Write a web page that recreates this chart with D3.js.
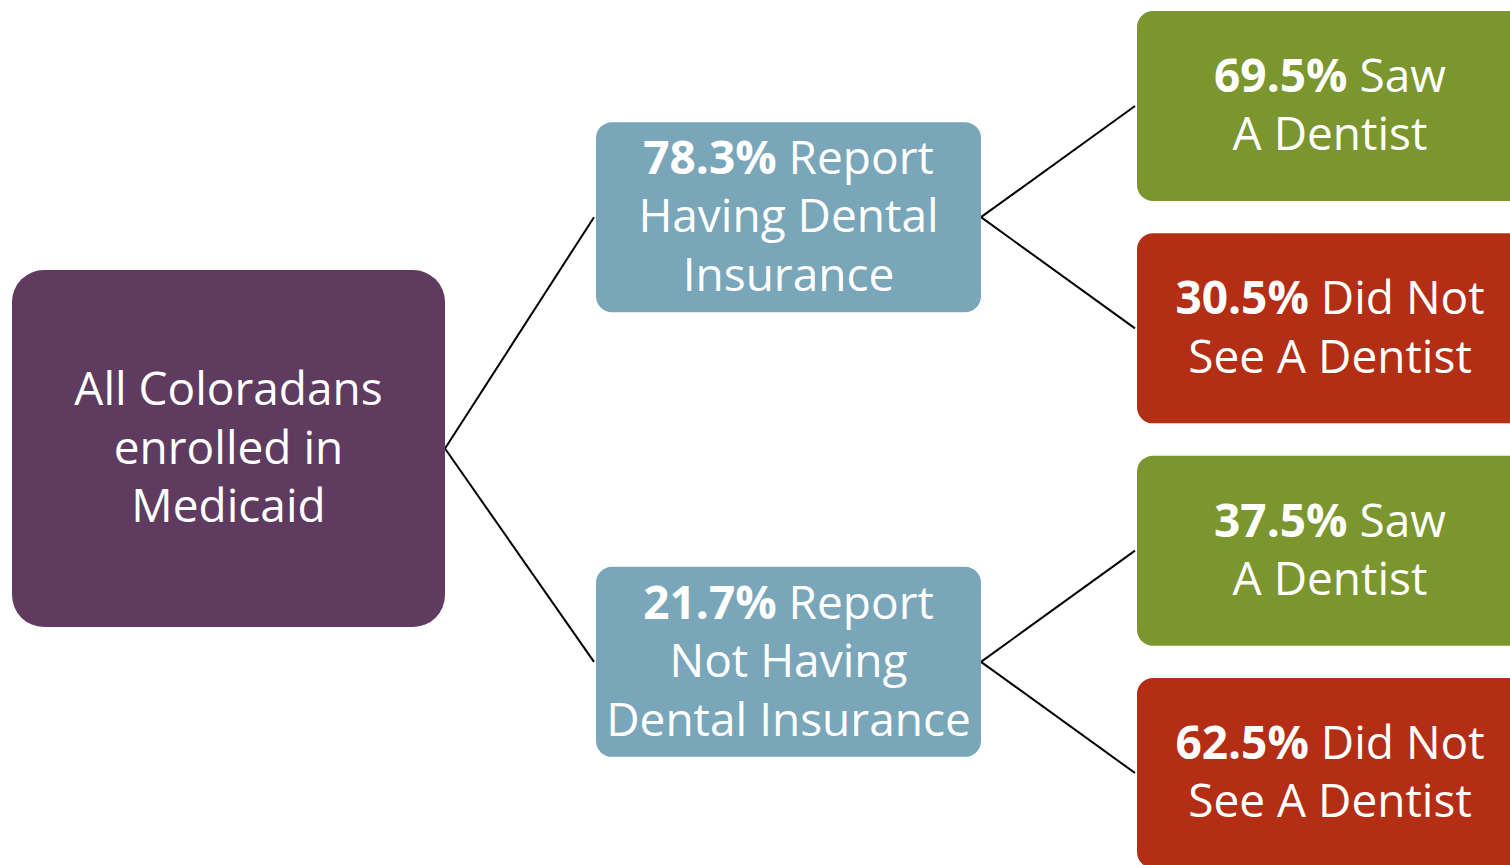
<!DOCTYPE html>
<html><head><meta charset="utf-8">
<script src="https://cdn.jsdelivr.net/npm/d3@7"></script>
<style>html,body{margin:0;padding:0;background:#fff;overflow:hidden}</style>
</head><body><svg id="c" width="1510" height="865"></svg>
<script>
// ---- data ----
const rootLabel = ["All Coloradans", "enrolled in", "Medicaid"];
const insurancePct = [78.3, 21.7];
const insuranceLabels = [["Report", "Having Dental", "Insurance"], ["Report", "Not Having", "Dental Insurance"]];
const visitPct = [[69.5, 30.5], [37.5, 62.5]];
const visitLabels = [["Saw", "A Dentist"], ["Did Not", "See A Dentist"]];
const visitColors = ["#7B962E", "#B32E14"];

const svg = d3.select("#c");
const FONT = "'Open Sans', sans-serif";
const FS = 46, LH = 58.5;

// scales
const leafY = d3.scalePoint().domain([0, 1, 2, 3]).range([106, 773]);
const colX = d3.scaleOrdinal().domain([0, 1, 2]).range([12, 596, 1137]);
const colW = [433, 385, 390];
const boxH = [357, 190, 190];
const rootShift = 9;

// build tree
const tree = {label: rootLabel, color: "#5F3C5F", children: insurancePct.map((p, i) => ({
  pct: p, label: insuranceLabels[i], color: "#7AA6BA",
  children: visitPct[i].map((v, j) => ({pct: v, label: visitLabels[j], color: visitColors[j], leaf: i * 2 + j}))
}))};
const root = d3.hierarchy(tree);
root.leaves().forEach(d => d.cy = leafY(d.data.leaf));
root.eachAfter(d => { if (d.children) d.cy = d3.mean(d.children, c => c.cy) + (d.depth === 0 ? rootShift : 0); });
root.each(d => { d.x0 = colX(d.depth); d.w = colW[d.depth]; d.h = boxH[d.depth]; d.y0 = d.cy - d.h / 2; });

// links
svg.append("g").selectAll("line").data(root.links()).join("line")
  .attr("x1", d => d.source.x0 + d.source.w)
  .attr("y1", d => d.source.cy)
  .attr("x2", d => d.target.x0 - 2)
  .attr("y2", d => d.target.cy)
  .attr("stroke", "#000").attr("stroke-width", 2);

const nodes = svg.append("g").selectAll("g").data(root.descendants()).join("g");
nodes.append("rect")
  .attr("x", d => d.x0).attr("y", d => d.y0)
  .attr("width", d => d.w).attr("height", d => d.h)
  .attr("rx", d => d.depth === 0 ? 32 : 16)
  .attr("fill", d => d.data.color);

nodes.each(function(d) {
  const g = d3.select(this);
  const lines = d.data.label;
  const n = lines.length;
  const cx = d.depth === 2 ? 1330 : d.x0 + d.w / 2;
  const base = d.cy - (n - 1) * LH / 2 + FS * 0.33;
  lines.forEach((ln, k) => {
    const t = g.append("text")
      .attr("x", cx).attr("y", base + k * LH)
      .attr("text-anchor", "middle")
      .attr("fill", "#fff")
      .style("font-family", FONT).style("font-size", FS + "px");
    if (k === 0 && d.data.pct != null) {
      t.append("tspan").attr("font-weight", "bold").text(d3.format(".1f")(d.data.pct) + "%");
      t.append("tspan").text(" " + ln);
    } else t.text(ln);
  });
});
</script></body></html>
